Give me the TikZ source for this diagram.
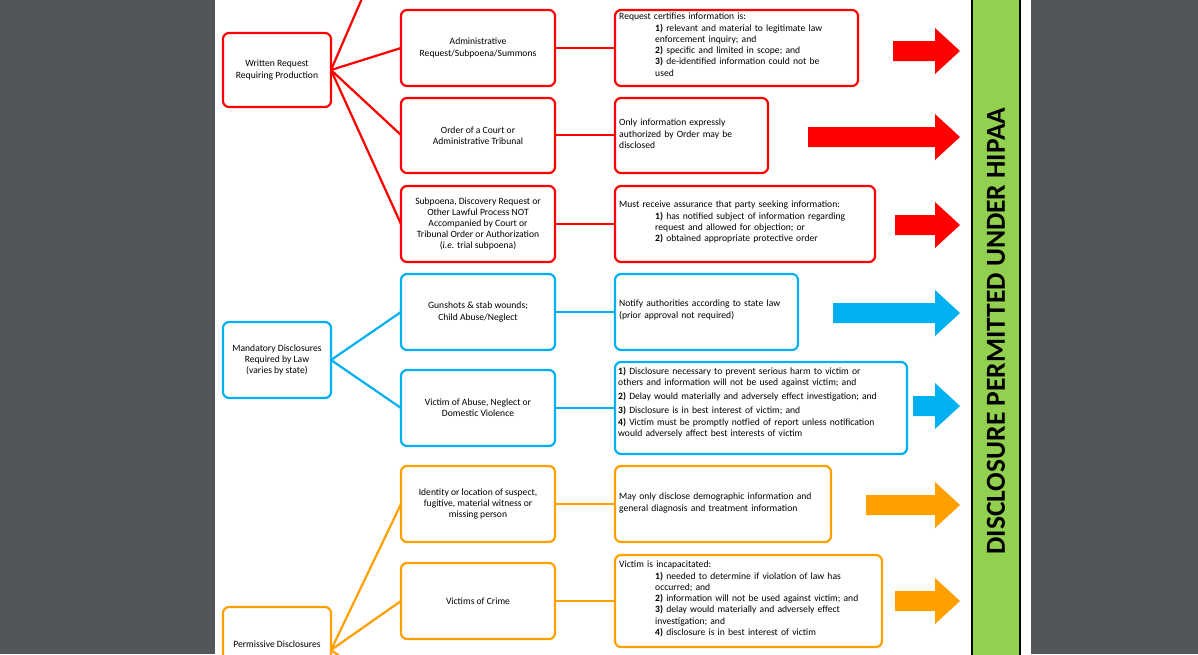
\documentclass[tikz,border=0pt]{standalone}
\usepackage{fontspec}
\setmainfont{Carlito}
\begin{document}
\hyphenpenalty=10000 \exhyphenpenalty=10000
\begin{tikzpicture}[x=1pt,y=-1pt,
  box/.style={draw=#1,line width=2.2pt,rounded corners=6pt,fill=white},
  lnk/.style={draw=#1,line width=2.2pt},
  txt/.style={font=\fontsize{9.6}{11.2}\selectfont,align=center,inner sep=0},
  ltxt/.style={font=\fontsize{9.6}{11.2}\selectfont,align=left,inner sep=0,anchor=north west,text width=#1}]
\definecolor{cred}{HTML}{FF0000}
\definecolor{cblue}{HTML}{00B0F0}
\definecolor{corg}{HTML}{FFA000}
\definecolor{cgreen}{HTML}{92D050}
\definecolor{cgray}{HTML}{525659}
\useasboundingbox (0,0) rectangle (1198,654);
\fill[cgray] (0,0) rectangle (1198,654);
\fill[white] (215,0) rectangle (1031,654);
\begin{scope}
\clip (215,0) rectangle (1031,654);
\newcommand\bx[6]{\path[box=#2] (#3,#4) rectangle (#5,#6); \coordinate (#1W) at (#3,{(#4+#6)/2}); \coordinate (#1E) at (#5,{(#4+#6)/2}); \coordinate (#1C) at ({(#3+#5)/2},{(#4+#6)/2});}
\newcommand\blk[5]{\fill[#1] (#2,{#4-10}) -- (#3,{#4-10}) -- (#3,{#4-23}) -- (960,#4) -- (#3,{#4+23}) -- (#3,{#4+10}) -- (#2,{#4+10}) -- cycle;}
% links
\draw[lnk=cred] (331,70) -- (370,-20);
\draw[lnk=cred] (331,70) -- (401,48);
\draw[lnk=cred] (331,70) -- (401,135);
\draw[lnk=cred] (331,70) -- (401,224);
\draw[lnk=cred] (555,48) -- (615,48);
\draw[lnk=cred] (555,135) -- (615,135);
\draw[lnk=cred] (555,224) -- (615,224);
\draw[lnk=cblue] (331,360) -- (401,312);
\draw[lnk=cblue] (331,360) -- (401,408);
\draw[lnk=cblue] (555,312) -- (615,312);
\draw[lnk=cblue] (555,408) -- (615,408);
\draw[lnk=corg] (331,650) -- (401,504);
\draw[lnk=corg] (331,650) -- (401,601);
\draw[lnk=corg] (331,650) -- (401,700);
\draw[lnk=corg] (555,504) -- (615,504);
\draw[lnk=corg] (555,601) -- (615,601);
% boxes
\bx{wr}{cred}{223}{33}{331}{107}
\node[txt] (wrt) at (wrC) {Written Request\\Requiring Production};
\bx{top}{cred}{401}{-80}{555}{-4}
\bx{ad}{cred}{401}{10}{555}{86}
\node[txt] (adt) at (adC) {Administrative\\Request/Subpoena/Summons};
\bx{or}{cred}{401}{98}{555}{173}
\node[txt] (ort) at (orC) {Order of a Court or\\Administrative Tribunal};
\bx{sb}{cred}{401}{186}{555}{262}
\node[txt] (sbt) at (sbC) {Subpoena, Discovery Request or\\Other Lawful Process NOT\\Accompanied by Court or\\Tribunal Order or Authorization\\(\textit{i.e.} trial subpoena)};
\bx{adr}{cred}{615}{10}{858}{86}
\node[ltxt=230pt] (adr1) at (619,13) {Request certifies information is:};
\node[ltxt=185pt] (adr2) at (655,24) {\textbf{1)} relevant and material to legitimate law\\enforcement inquiry; and\\\textbf{2)} specific and limited in scope; and\\\textbf{3)} de-identified information could not be\\used};
\bx{orr}{cred}{615}{98}{768}{173}
\node[ltxt=145pt] (orrt) at (619,119) {Only information expressly\\authorized by Order may be\\disclosed};
\bx{sbr}{cred}{615}{186}{875}{262}
\node[ltxt=250pt] (sbr1) at (619,201) {Must receive assurance that party seeking information:};
\node[ltxt=215pt] (sbr2) at (655,212) {\textbf{1)} has notified subject of information regarding\\request and allowed for objection; or\\\textbf{2)} obtained appropriate protective order};
\bx{md}{cblue}{223}{322}{331}{398}
\node[txt] (mdt) at (mdC) {Mandatory Disclosures\\Required by Law\\(varies by state)};
\bx{gs}{cblue}{401}{274}{555}{350}
\node[txt] (gst) at (gsC) {Gunshots \& stab wounds;\\Child Abuse/Neglect};
\bx{va}{cblue}{401}{370}{555}{446}
\node[txt] (vat) at (vaC) {Victim of Abuse, Neglect or\\Domestic Violence};
\bx{gsr}{cblue}{615}{274}{798}{350}
\node[ltxt=180pt] (gsrt) at (619,300) {Notify authorities according to state law\\(prior approval not required)};
\bx{var}{cblue}{615}{362}{907}{454}
\node[ltxt=287pt] (vart) at (618,367) {\textbf{1)} Disclosure necessary to prevent serious harm to victim or\\others and information will not be used against victim; and\\[3pt]\textbf{2)} Delay would materially and adversely effect investigation; and\\[3pt]\textbf{3)} Disclosure is in best interest of victim; and\\\textbf{4)} Victim must be promptly notfied of report unless notification\\would adversely affect best interests of victim};
\bx{pd}{corg}{223}{607}{331}{700}
\node[txt] (pdt) at (277,644) {Permissive Disclosures};
\bx{id}{corg}{401}{466}{555}{542}
\node[txt] (idt) at (idC) {Identity or location of suspect,\\fugitive, material witness or\\missing person};
\bx{vc}{corg}{401}{563}{555}{639}
\node[txt] (vct) at (vcC) {Victims of Crime};
\bx{idr}{corg}{615}{466}{831}{542}
\node[ltxt=210pt] (idrt) at (619,493) {May only disclose demographic information and\\general diagnosis and treatment information};
\bx{vcr}{corg}{615}{555}{882}{647}
\node[ltxt=250pt] (vcr1) at (619,561) {Victim is incapacitated:};
\node[ltxt=220pt] (vcr2) at (655,572) {\textbf{1)} needed to determine if violation of law has\\occurred; and\\\textbf{2)} information will not be used against victim; and\\\textbf{3)} delay would materially and adversely effect\\investigation; and\\\textbf{4)} disclosure is in best interest of victim};
% block arrows
\blk{cred}{893}{935}{51}{}
\blk{cred}{808}{935}{137}{}
\blk{cred}{895}{935}{225}{}
\blk{cblue}{833}{935}{313}{}
\blk{cblue}{913}{935}{406}{}
\blk{corg}{866}{935}{505}{}
\blk{corg}{895}{935}{601}{}
% green bar
\path[fill=cgreen,draw=black,line width=1.5pt] (972,-5) rectangle (1020,660);
\node[rotate=90,font=\fontsize{27.5}{30}\selectfont\bfseries,inner sep=0] (bar) at (996,331) {DISCLOSURE PERMITTED UNDER HIPAA};
\end{scope}
\end{tikzpicture}
\end{document}
